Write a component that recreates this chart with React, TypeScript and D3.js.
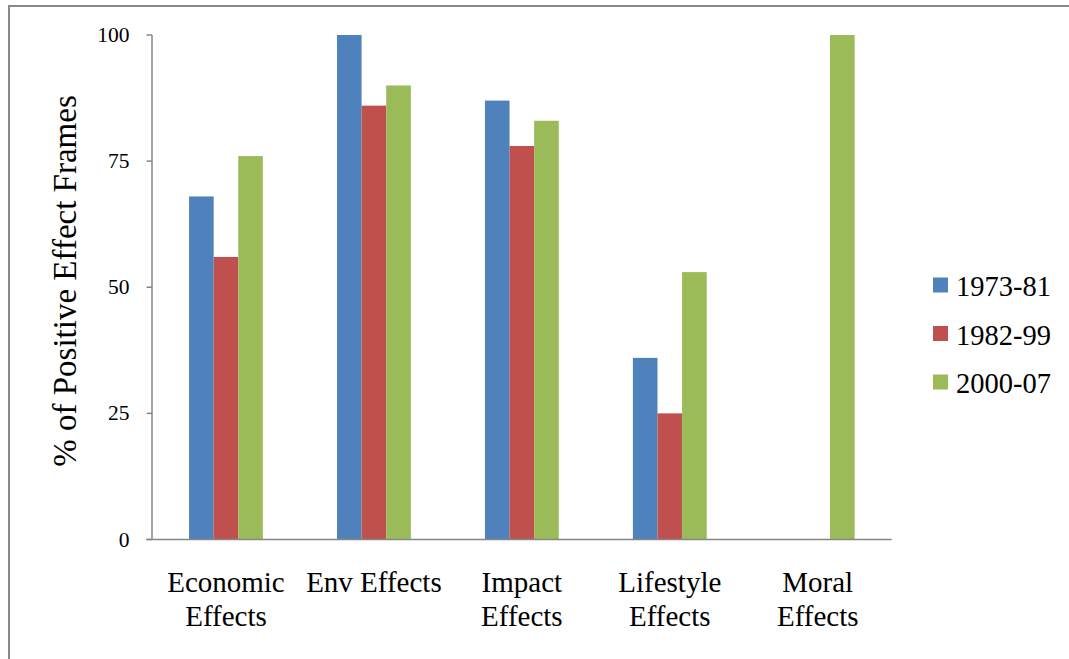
import React, { useEffect, useRef } from "react";
import * as d3 from "d3";

const categories = [
  ["Economic", "Effects"],
  ["Env Effects"],
  ["Impact", "Effects"],
  ["Lifestyle", "Effects"],
  ["Moral", "Effects"],
];
const seriesNames = ["1973-81", "1982-99", "2000-07"];
const values1973 = [68, 100, 87, 36, 0];
const values1982 = [56, 86, 78, 25, 0];
const values2000 = [76, 90, 83, 53, 100];
const yTicks = [0, 25, 50, 75, 100];
const colors = ["#4F81BD", "#C0504D", "#9BBB59"];

const W = 1069;
const H = 659;
const FONT = "Times New Roman";

export default function App() {
  const ref = useRef<SVGSVGElement>(null);

  useEffect(() => {
    const svg = d3.select(ref.current);
    svg.selectAll("*").remove();

    const seriesValues = [values1973, values1982, values2000];
    const left = 152;
    const right = 891.7;
    const top = 35;
    const bottom = 539.5;
    const axisColor = "#868686";

    // outer chart frame (extends past the right and bottom edges)
    svg
      .append("rect")
      .attr("x", 9)
      .attr("y", 6)
      .attr("width", W + 20)
      .attr("height", H + 20)
      .attr("fill", "none")
      .attr("stroke", "#898989")
      .attr("stroke-width", 2);

    const keys = categories.map((c) => c.join(" "));
    const x0 = d3.scaleBand<string>().domain(keys).range([left, right]).paddingInner(0).paddingOuter(0);
    const groupWidth = 73.8;
    const x1 = d3
      .scaleBand<string>()
      .domain(seriesNames)
      .range([0, groupWidth]);
    const y = d3.scaleLinear().domain([0, 100]).range([bottom, top]);

    // bars
    seriesNames.forEach((name, si) => {
      svg
        .append("g")
        .selectAll("rect")
        .data(seriesValues[si])
        .join("rect")
        .attr("x", (_, i) => (x0(keys[i]) as number) + (x0.bandwidth() - groupWidth) / 2 + (x1(name) as number))
        .attr("y", (d) => y(d))
        .attr("width", x1.bandwidth())
        .attr("height", (d) => bottom - y(d))
        .attr("fill", colors[si]);
    });

    // y axis
    svg
      .append("line")
      .attr("x1", left)
      .attr("x2", left)
      .attr("y1", top)
      .attr("y2", bottom)
      .attr("stroke", axisColor)
      .attr("stroke-width", 1.5);
    yTicks.forEach((t) => {
      svg
        .append("line")
        .attr("x1", left - 5.5)
        .attr("x2", left)
        .attr("y1", y(t))
        .attr("y2", y(t))
        .attr("stroke", axisColor)
        .attr("stroke-width", 1.5);
      svg
        .append("text")
        .attr("x", 129.5)
        .attr("y", y(t) + 7)
        .attr("text-anchor", "end")
        .style("font-family", FONT)
        .attr("font-size", 21.5)
        .attr("fill", "#000")
        .text(t);
    });

    // x axis
    svg
      .append("line")
      .attr("x1", left - 5.5)
      .attr("x2", right)
      .attr("y1", bottom)
      .attr("y2", bottom)
      .attr("stroke", axisColor)
      .attr("stroke-width", 1.5);

    // category labels
    categories.forEach((lines, i) => {
      const cx = (x0(keys[i]) as number) + x0.bandwidth() / 2;
      lines.forEach((ln, li) => {
        svg
          .append("text")
          .attr("x", cx)
          .attr("y", 592 + li * 34)
          .attr("text-anchor", "middle")
          .style("font-family", FONT)
          .attr("font-size", 29)
          .attr("fill", "#000")
          .text(ln);
      });
    });

    // y axis title
    svg
      .append("text")
      .attr("transform", `translate(76, 281) rotate(-90)`)
      .attr("text-anchor", "middle")
      .style("font-family", FONT)
      .attr("font-size", 33)
      .attr("fill", "#000")
      .text("% of Positive Effect Frames");

    // legend
    seriesNames.forEach((name, i) => {
      const cy = 285 + i * 48.5;
      svg
        .append("rect")
        .attr("x", 933)
        .attr("y", cy - 7.5)
        .attr("width", 15)
        .attr("height", 15)
        .attr("fill", colors[i]);
      svg
        .append("text")
        .attr("x", 956)
        .attr("y", cy + 11)
        .style("font-family", FONT)
        .attr("font-size", 28.5)
        .attr("fill", "#000")
        .text(name);
    });
  }, []);

  return (
    <div style={{ position: "absolute", left: 0, top: 0, width: W, height: H, background: "#fff" }}>
      <svg ref={ref} width={W} height={H} style={{ display: "block" }} />
    </div>
  );
}
